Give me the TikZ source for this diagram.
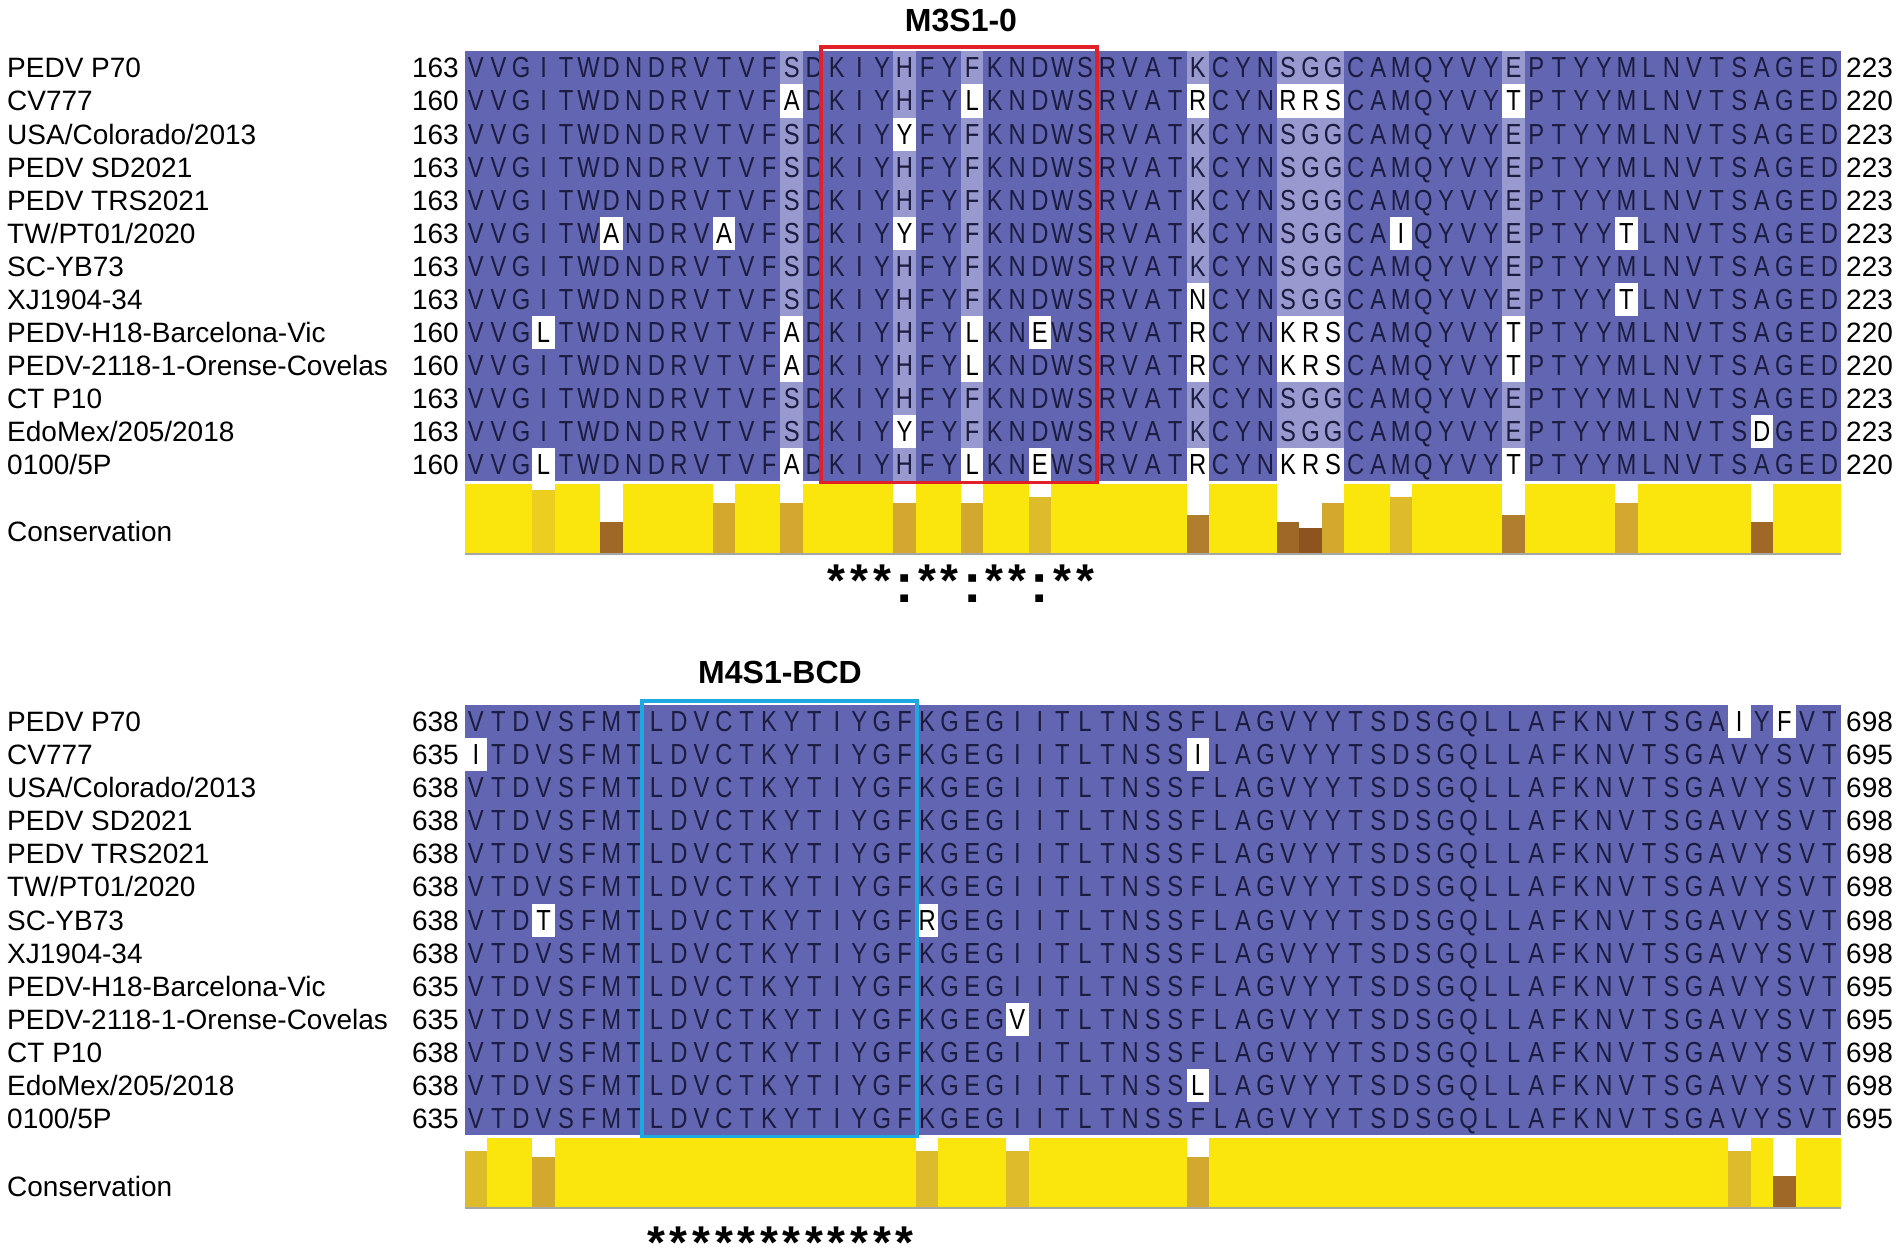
\documentclass[tikz,border=0pt]{standalone}
\usepackage{fontspec}
\setmainfont{Liberation Sans}
\newfontfamily\resfont[FakeStretch=0.82]{Liberation Sans}
\usepackage{xcolor}
\usepackage{tikz}
\usetikzlibrary{calc}

\definecolor{pid}{RGB}{98,102,178}
\definecolor{pidlight}{RGB}{152,153,206}
\definecolor{resi}{RGB}{28,28,64}
\definecolor{cons11}{RGB}{250,230,12}
\definecolor{cons10}{RGB}{236,206,30}
\definecolor{cons9}{RGB}{222,187,42}
\definecolor{cons8}{RGB}{210,168,46}
\definecolor{cons6}{RGB}{176,126,46}
\definecolor{cons5}{RGB}{160,104,38}
\definecolor{cons4}{RGB}{142,84,32}
\definecolor{boxred}{RGB}{226,32,42}
\definecolor{boxblue}{RGB}{30,168,226}

\newcommand{\cw}{22.56}  % column width
\newcommand{\rh}{33.05}  % row height
\newcommand{\xo}{464.6}  % left edge of the alignment
\newcommand{\xe}{1840.8} % right edge of the alignment

\begin{document}
\begin{tikzpicture}[x=1pt,y=-1pt]
  \tikzstyle{lab}=[inner sep=0pt,anchor=base west,font=\fontsize{28}{30}\selectfont]
  \tikzstyle{num}=[inner sep=0pt,anchor=base east,font=\fontsize{28}{30}\selectfont]
  \tikzstyle{numend}=[num,anchor=base west]
  \tikzstyle{res}=[inner sep=0pt,anchor=base,text=resi,font=\resfont\fontsize{29}{30}\selectfont]
  \tikzstyle{mut}=[res,text=black]
  \tikzstyle{title}=[inner sep=0pt,anchor=base,font=\bfseries\fontsize{32}{34}\selectfont]
  \tikzstyle{consstar}=[inner sep=0pt,anchor=base,font=\bfseries\fontsize{46}{48}\selectfont]
  \tikzstyle{conscolon}=[consstar,font=\bfseries\fontsize{55}{56}\selectfont]
  \tikzstyle{consbase}=[draw=gray!70,line width=2.5pt]

  \useasboundingbox (0,0) rectangle (1902,1250);

  % strain names and positions
  \foreach \n [count=\r from 0] in {PEDV P70,CV777,{USA/Colorado/2013},PEDV SD2021,PEDV TRS2021,{TW/PT01/2020},SC-YB73,XJ1904-34,PEDV-H18-Barcelona-Vic,PEDV-2118-1-Orense-Covelas,CT P10,{EdoMex/205/2018},{0100/5P}}
  {
    \node[lab] (la\r) at (7,{77.9+\r*\rh}) {\n};
    \node[lab] (lb\r) at (7,{731.7+\r*\rh}) {\n};
  }
  \foreach \s/\e/\p/\q [count=\r from 0] in {163/223/638/698,160/220/635/695,163/223/638/698,163/223/638/698,163/223/638/698,163/223/638/698,163/223/638/698,163/223/638/698,160/220/635/695,160/220/635/695,163/223/638/698,163/223/638/698,160/220/635/695}
  {
    \node[num] (sa\r) at (459,{77.9+\r*\rh}) {\s};
    \node[numend] (ea\r) at (1846,{77.9+\r*\rh}) {\e};
    \node[num] (sb\r) at (459,{731.7+\r*\rh}) {\p};
    \node[numend] (eb\r) at (1846,{731.7+\r*\rh}) {\q};
  }

  % substitutions (row/column/residue)
  \foreach \r/\i/\c in {1/14/A,1/22/L,1/32/R,1/36/R,1/37/R,1/38/S,1/46/T,2/19/Y,5/6/A,5/11/A,5/19/Y,5/41/I,5/51/T,7/32/N,7/51/T,8/3/L,8/14/A,8/22/L,8/25/E,8/32/R,8/36/K,8/37/R,8/38/S,8/46/T,9/14/A,9/22/L,9/32/R,9/36/K,9/37/R,9/38/S,9/46/T,11/19/Y,11/57/D,12/3/L,12/14/A,12/22/L,12/25/E,12/32/R,12/36/K,12/37/R,12/38/S,12/46/T}
    {\expandafter\xdef\csname subA\r-\i\endcsname{\c}}
  \foreach \r/\i/\c in {0/56/I,0/58/F,1/0/I,1/32/I,6/3/T,6/20/R,9/24/V,11/32/L}
    {\expandafter\xdef\csname subB\r-\i\endcsname{\c}}

  % M3S1-0
  \node[title] (m3) at (961,31.3) {M3S1-0};
  \fill[pid] (\xo,51.4) rectangle (\xe,481);
  \foreach \i in {14,19,22,32,36,37,38,46}
    \fill[pidlight] ({\xo+\i*\cw},51.4) rectangle ++(\cw,429.6);
  \foreach \r in {0,...,12}
    \foreach \c [count=\i from 0] in {V,V,G,I,T,W,D,N,D,R,V,T,V,F,S,D,K,I,Y,H,F,Y,F,K,N,D,W,S,R,V,A,T,K,C,Y,N,S,G,G,C,A,M,Q,Y,V,Y,E,P,T,Y,Y,M,L,N,V,T,S,A,G,E,D}
    {
      \ifcsname subA\r-\i\endcsname
        \fill[white] ({\xo+\i*\cw},{51.4+\r*\rh}) rectangle ++(\cw,\rh);
        \node[mut] (a\r-\i) at ({\xo+(\i+0.5)*\cw},{77.9+\r*\rh}) {\csname subA\r-\i\endcsname};
      \else
        \node[res] (a\r-\i) at ({\xo+(\i+0.5)*\cw},{77.9+\r*\rh}) {\c};
      \fi
    }
  \draw[boxred,line width=3.5pt] (821,47) rectangle (1097,483);

  \fill[cons11] (\xo,484) rectangle (\xe,553);
  \foreach \i/\s in {3/10,6/5,11/8,14/8,19/8,22/8,25/9,32/6,36/5,37/4,38/8,41/9,46/6,51/8,57/5}
  {
    \fill[white] ({\xo+\i*\cw},484) rectangle ++(\cw,69);
    \fill[cons\s] ({\xo+\i*\cw},553) rectangle ++(\cw,{-69*\s/11});
  }
  \draw[consbase] (\xo,554) -- (\xe,554);
  \node[lab] (ca) at (7,541) {Conservation};
  \foreach \i in {16,17,18,20,21,23,24,26,27}
    \node[consstar] (sta\i) at ({\xo+(\i+0.5)*\cw},596) {*};
  \foreach \i in {19,22,25}
    \node[conscolon] (cla\i) at ({\xo+(\i+0.5)*\cw},602) {:};

  % M4S1-BCD
  \node[title] (m4) at (780,683) {M4S1-BCD};
  \fill[pid] (\xo,705.2) rectangle (\xe,1134.9);
  \foreach \r in {0,...,12}
    \foreach \c [count=\i from 0] in {V,T,D,V,S,F,M,T,L,D,V,C,T,K,Y,T,I,Y,G,F,K,G,E,G,I,I,T,L,T,N,S,S,F,L,A,G,V,Y,Y,T,S,D,S,G,Q,L,L,A,F,K,N,V,T,S,G,A,V,Y,S,V,T}
    {
      \ifcsname subB\r-\i\endcsname
        \fill[white] ({\xo+\i*\cw},{705.2+\r*\rh}) rectangle ++(\cw,\rh);
        \node[mut] (b\r-\i) at ({\xo+(\i+0.5)*\cw},{731.7+\r*\rh}) {\csname subB\r-\i\endcsname};
      \else
        \node[res] (b\r-\i) at ({\xo+(\i+0.5)*\cw},{731.7+\r*\rh}) {\c};
      \fi
    }
  \draw[boxblue,line width=3.5pt] (642,701) rectangle (917,1137);

  \fill[cons11] (\xo,1138) rectangle (\xe,1207);
  \foreach \i/\s in {0/9,3/8,20/9,24/9,32/8,56/9,58/5}
  {
    \fill[white] ({\xo+\i*\cw},1138) rectangle ++(\cw,69);
    \fill[cons\s] ({\xo+\i*\cw},1207) rectangle ++(\cw,{-69*\s/11});
  }
  \draw[consbase] (\xo,1208) -- (\xe,1208);
  \node[lab] (cb) at (7,1196) {Conservation};
  \foreach \i in {8,...,19}
    \node[consstar] (stb\i) at ({\xo+(\i+0.5)*\cw},1258) {*};
\end{tikzpicture}
\end{document}
